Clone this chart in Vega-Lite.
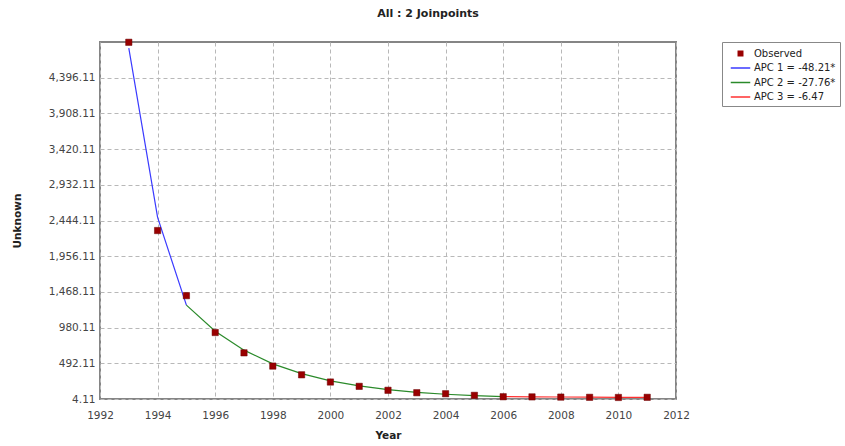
{
  "$schema": "https://vega.github.io/schema/vega-lite/v6.json",
  "width": 576,
  "height": 357,
  "autosize": "none",
  "padding": {"left": 100, "top": 42, "right": 169, "bottom": 47},
  "background": "white",
  "title": {"text": "All : 2 Joinpoints", "font": "DejaVu Sans", "fontSize": 11, "fontWeight": "bold", "color": "#222", "anchor": "middle", "dx": 40, "offset": 19},
  "datasets": {
    "obs": [
      {"year": 1993, "value": 4880, "series": "Observed"},
      {"year": 1994, "value": 2307, "series": "Observed"},
      {"year": 1995, "value": 1417, "series": "Observed"},
      {"year": 1996, "value": 913, "series": "Observed"},
      {"year": 1997, "value": 635, "series": "Observed"},
      {"year": 1998, "value": 454, "series": "Observed"},
      {"year": 1999, "value": 335, "series": "Observed"},
      {"year": 2000, "value": 236, "series": "Observed"},
      {"year": 2001, "value": 177, "series": "Observed"},
      {"year": 2002, "value": 123, "series": "Observed"},
      {"year": 2003, "value": 90, "series": "Observed"},
      {"year": 2004, "value": 76, "series": "Observed"},
      {"year": 2005, "value": 54, "series": "Observed"},
      {"year": 2006, "value": 35, "series": "Observed"},
      {"year": 2007, "value": 33, "series": "Observed"},
      {"year": 2008, "value": 30, "series": "Observed"},
      {"year": 2009, "value": 27, "series": "Observed"},
      {"year": 2010, "value": 25, "series": "Observed"},
      {"year": 2011, "value": 27, "series": "Observed"}
    ],
    "fit": [
      {"year": 1993, "value": 4800, "series": "APC 1 = -48.21*"},
      {"year": 1994, "value": 2486, "series": "APC 1 = -48.21*"},
      {"year": 1995, "value": 1287, "series": "APC 1 = -48.21*"},
      {"year": 1995, "value": 1287, "series": "APC 2 = -27.76*"},
      {"year": 1996, "value": 930, "series": "APC 2 = -27.76*"},
      {"year": 1997, "value": 672, "series": "APC 2 = -27.76*"},
      {"year": 1998, "value": 485, "series": "APC 2 = -27.76*"},
      {"year": 1999, "value": 351, "series": "APC 2 = -27.76*"},
      {"year": 2000, "value": 253, "series": "APC 2 = -27.76*"},
      {"year": 2001, "value": 183, "series": "APC 2 = -27.76*"},
      {"year": 2002, "value": 132, "series": "APC 2 = -27.76*"},
      {"year": 2003, "value": 95, "series": "APC 2 = -27.76*"},
      {"year": 2004, "value": 69, "series": "APC 2 = -27.76*"},
      {"year": 2005, "value": 50, "series": "APC 2 = -27.76*"},
      {"year": 2006, "value": 36, "series": "APC 2 = -27.76*"},
      {"year": 2006, "value": 36, "series": "APC 3 = -6.47"},
      {"year": 2007, "value": 34, "series": "APC 3 = -6.47"},
      {"year": 2008, "value": 31.5, "series": "APC 3 = -6.47"},
      {"year": 2009, "value": 29.5, "series": "APC 3 = -6.47"},
      {"year": 2010, "value": 27.6, "series": "APC 3 = -6.47"},
      {"year": 2011, "value": 25.8, "series": "APC 3 = -6.47"}
    ]
  },
  "encoding": {
    "x": {
      "field": "year", "type": "quantitative",
      "scale": {"domain": [1992, 2012], "nice": false, "zero": false},
      "axis": {"title": "Year", "values": [1992, 1994, 1996, 1998, 2000, 2002, 2004, 2006, 2008, 2010, 2012], "format": "d", "labelPadding": 11, "titlePadding": 10}
    },
    "y": {
      "field": "value", "type": "quantitative",
      "scale": {"domain": [4.11, 4884.11], "nice": false, "zero": false},
      "axis": {"title": "Unknown", "values": [4.11, 492.11, 980.11, 1468.11, 1956.11, 2444.11, 2932.11, 3420.11, 3908.11, 4396.11], "format": ",.2f", "labelOverlap": false, "titlePadding": 26}
    },
    "color": {
      "field": "series", "type": "nominal",
      "scale": {"domain": ["Observed", "APC 1 = -48.21*", "APC 2 = -27.76*", "APC 3 = -6.47"], "range": ["#990000", "#3a3aff", "#2a8a2a", "#ff3030"]},
      "legend": {
        "title": null, "orient": "none", "legendX": 622, "legendY": 0,
        "strokeColor": "#888", "fillColor": "white", "padding": 4,
        "labelFont": "DejaVu Sans", "labelFontSize": 10, "labelColor": "#222",
        "symbolSize": 169, "symbolStrokeWidth": 1.5, "rowPadding": 1.5, "labelOffset": 6, "symbolOffset": 7,
        "encode": {
          "symbols": {
            "update": {
              "shape": {"signal": "datum.value === 'Observed' ? 'square' : 'M-1.5,0H1.5'"},
              "size": {"signal": "datum.value === 'Observed' ? 20 : 169"},
              "fill": {"signal": "datum.value === 'Observed' ? '#990000' : 'transparent'"},
              "stroke": {"signal": "datum.value === 'Observed' ? '#990000' : scale('color', datum.value)"}
            }
          }
        }
      }
    }
  },
  "layer": [
    {
      "data": {"name": "fit"},
      "mark": {"type": "line", "strokeWidth": 1.2, "clip": true},
      "encoding": {
        "detail": {"field": "series"}
      }
    },
    {
      "data": {"name": "obs"},
      "mark": {"type": "point", "shape": "square", "filled": true, "size": 40, "opacity": 1, "stroke": "#6a0000", "strokeWidth": 0.5}
    }
  ],
  "config": {
    "font": "DejaVu Sans",
    "view": {"stroke": "#858585", "strokeWidth": 2},
    "axis": {
      "domain": false,
      "grid": true, "gridColor": "#b8b8b8", "gridDash": [4, 3], "gridWidth": 1,
      "ticks": false,
      "labelFont": "DejaVu Sans", "labelFontSize": 10.5, "labelColor": "#444",
      "titleFont": "DejaVu Sans", "titleFontSize": 10.5, "titleFontWeight": "bold", "titleColor": "#222",
      "labelPadding": 5
    },
    "axisX": {"labelFlush": false},
    "axisY": {"labelPadding": 5}
  }
}
